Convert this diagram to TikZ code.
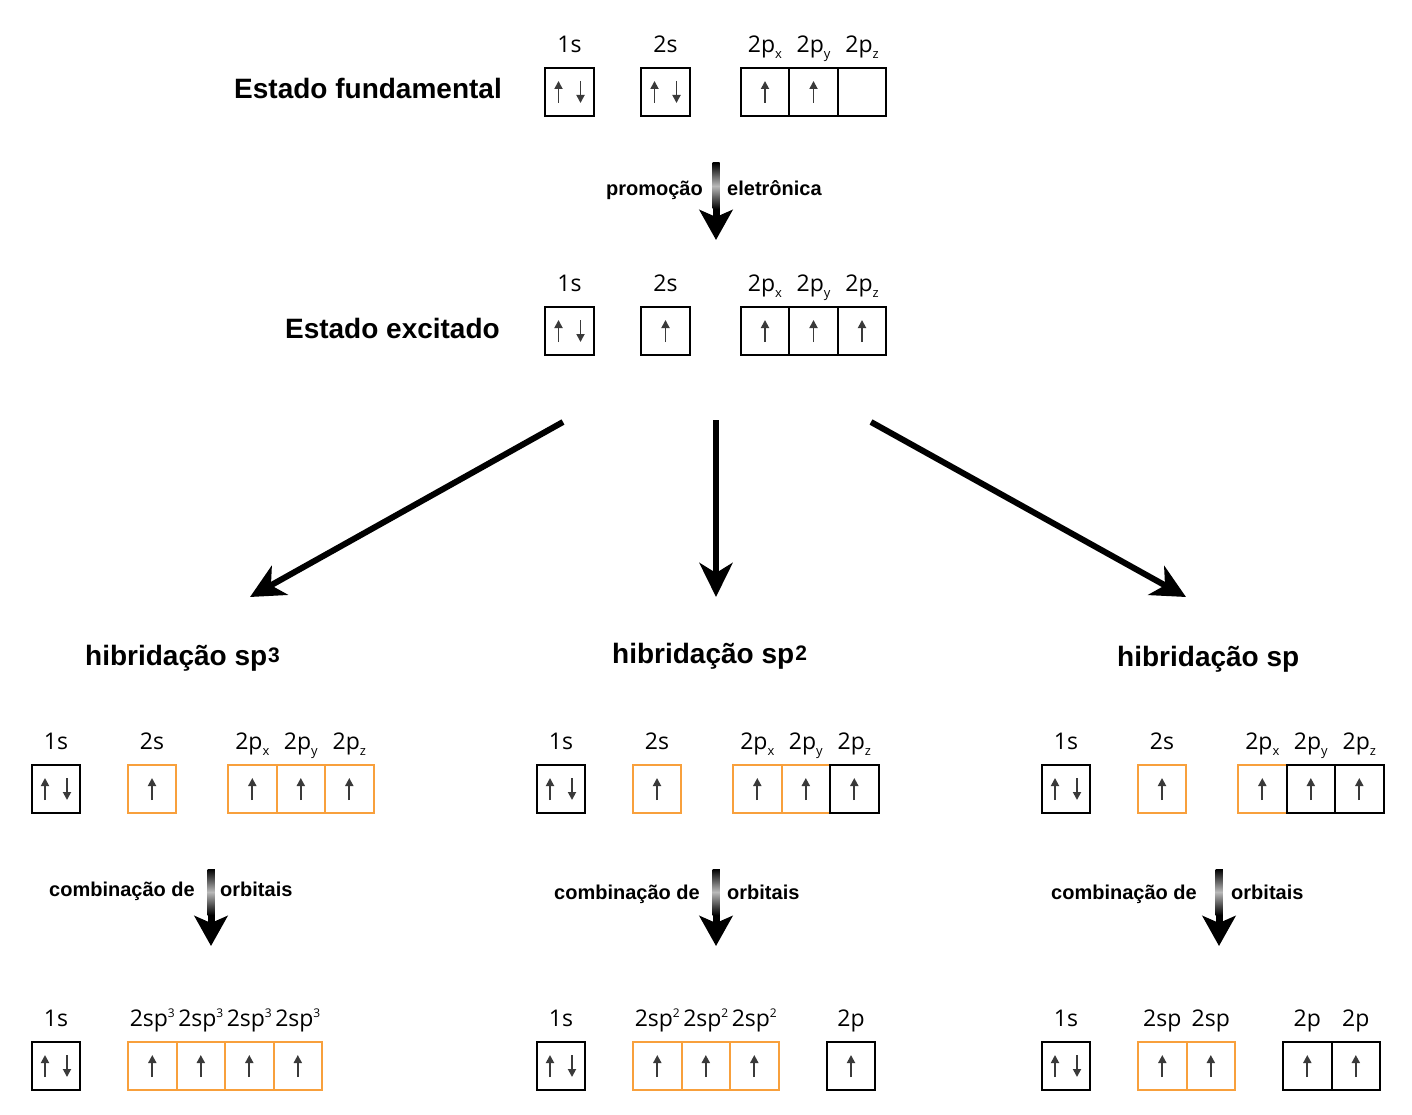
\documentclass[tikz,border=0pt]{standalone}
\usepackage{fontspec}
\setmainfont{Liberation Sans}
\newfontfamily\orbfont{Open Sans}
\usetikzlibrary{arrows.meta,calc}
\definecolor{orb}{RGB}{248,160,60}
\definecolor{elec}{RGB}{58,58,58}
\newcommand\orbsub[1]{\raisebox{-6pt}{\fontsize{13}{13}\selectfont #1}}
\newcommand\orbsup[1]{\raisebox{9pt}{\fontsize{12}{12}\selectfont #1}}
\newcommand\titsup[1]{\kern1pt\raisebox{3pt}{\fontsize{21}{21}\selectfont #1}}
\newcommand\gradarrow[2]{%
  \draw[smallarrow] (#1) -- (#2);
  \shade[top color=black,bottom color=black,middle color=gray!55]
    ($(#1)+(-3.5,0)$) rectangle ($(#2)+(3.5,-31)$);}
\begin{document}
\begin{tikzpicture}[x=1pt,y=-1pt,
  box/.style={draw=black, line width=2pt, minimum size=48.5pt, inner sep=0pt, outer sep=0pt},
  obox/.style={box, draw=orb},
  el/.style={draw=elec, line width=1.8pt, -{Triangle[length=8pt,width=8pt]}},
  lab/.style={anchor=base, inner sep=0pt, font=\orbfont\fontsize{23}{23}\selectfont},
  titleE/.style={anchor=base east, inner sep=0pt, font=\bfseries\fontsize{28}{28}\selectfont},
  titleW/.style={anchor=base west, inner sep=0pt, font=\bfseries\fontsize{28}{28}\selectfont},
  noteE/.style={anchor=base east, inner sep=0pt, font=\bfseries\fontsize{20}{20}\selectfont},
  noteW/.style={anchor=base west, inner sep=0pt, font=\bfseries\fontsize{20}{20}\selectfont},
  bigarrow/.style={line width=6pt, -{Stealth[length=34pt,width=33pt,inset=10pt]}},
  smallarrow/.style={line width=7pt, -{Stealth[length=30pt,width=33pt,inset=7pt]}},
  pics/eup/.style={code={\draw[el] (0,11)--(0,-11);}},
  pics/eud/.style={code={\draw[el] (-11,11)--(-11,-11); \draw[el] (11,-11)--(11,11);}},
]
\useasboundingbox (0,0) rectangle (1412,1115);

% ---------- Estado fundamental ----------
\node[titleE] (tfund) at (502,99) {Estado fundamental};
\node[box] (a1s) at (569.5,92) {};
\node[box] (a2s) at (665.5,92) {};
\node[box] (a2px) at (765,92) {};
\node[box] (a2py) at (813.5,92) {};
\node[box] (a2pz) at (862,92) {};
\node[lab] (la1s) at ([yshift=15pt]a1s.north) {1s};
\node[lab] (la2s) at ([yshift=15pt]a2s.north) {2s};
\node[lab] (la2px) at ([yshift=15pt]a2px.north) {2p\orbsub{x}};
\node[lab] (la2py) at ([yshift=15pt]a2py.north) {2p\orbsub{y}};
\node[lab] (la2pz) at ([yshift=15pt]a2pz.north) {2p\orbsub{z}};
\pic at (a1s) {eud};
\pic at (a2s) {eud};
\pic at (a2px) {eup};
\pic at (a2py) {eup};

% promocao
\coordinate (p0) at (716,163);
\coordinate (p1) at (716,240);
\gradarrow{p0}{p1}
\node[noteE] (tpromo) at (703,196) {promoção};
\node[noteW] (teletr) at (727,196) {eletrônica};

% ---------- Estado excitado ----------
\node[titleE] (texc) at (500,338) {Estado excitado};
\node[box] (b1s) at (569.5,331) {};
\node[box] (b2s) at (665.5,331) {};
\node[box] (b2px) at (765,331) {};
\node[box] (b2py) at (813.5,331) {};
\node[box] (b2pz) at (862,331) {};
\node[lab] (lb1s) at ([yshift=15pt]b1s.north) {1s};
\node[lab] (lb2s) at ([yshift=15pt]b2s.north) {2s};
\node[lab] (lb2px) at ([yshift=15pt]b2px.north) {2p\orbsub{x}};
\node[lab] (lb2py) at ([yshift=15pt]b2py.north) {2p\orbsub{y}};
\node[lab] (lb2pz) at ([yshift=15pt]b2pz.north) {2p\orbsub{z}};
\pic at (b1s) {eud};
\pic at (b2s) {eup};
\pic at (b2px) {eup};
\pic at (b2py) {eup};
\pic at (b2pz) {eup};

% big arrows
\coordinate (gL0) at (563,422); \coordinate (gL1) at (250,597);
\coordinate (gM0) at (716,420); \coordinate (gM1) at (716,597);
\coordinate (gR0) at (871,422); \coordinate (gR1) at (1186,597);
\draw[bigarrow] (gL0) -- (gL1);
\draw[bigarrow] (gM0) -- (gM1);
\draw[bigarrow] (gR0) -- (gR1);

% titles
\node[titleW] (hsp3) at (85,665) {hibridação sp\titsup{3}};
\node[titleW] (hsp2) at (612,663) {hibridação sp\titsup{2}};
\node[titleW] (hsp) at (1117,666) {hibridação sp};

% ---------- row C left (sp3) ----------
\node[box] (c1s) at (56,789) {};
\node[obox] (c2s) at (152,789) {};
\node[obox] (c2px) at (252.3,789) {};
\node[obox] (c2py) at (300.8,789) {};
\node[obox] (c2pz) at (349.3,789) {};
\node[lab] at ([yshift=15pt]c1s.north) {1s};
\node[lab] at ([yshift=15pt]c2s.north) {2s};
\node[lab] at ([yshift=15pt]c2px.north) {2p\orbsub{x}};
\node[lab] at ([yshift=15pt]c2py.north) {2p\orbsub{y}};
\node[lab] at ([yshift=15pt]c2pz.north) {2p\orbsub{z}};
\pic at (c1s) {eud};
\pic at (c2s) {eup};
\pic at (c2px) {eup};
\pic at (c2py) {eup};
\pic at (c2pz) {eup};

% ---------- row C middle (sp2) ----------
\node[box] (m1s) at (561,789) {};
\node[obox] (m2s) at (657,789) {};
\node[obox] (m2px) at (757.3,789) {};
\node[obox] (m2py) at (805.8,789) {};
\node[box] (m2pz) at (854.3,789) {};
\node[lab] at ([yshift=15pt]m1s.north) {1s};
\node[lab] at ([yshift=15pt]m2s.north) {2s};
\node[lab] at ([yshift=15pt]m2px.north) {2p\orbsub{x}};
\node[lab] at ([yshift=15pt]m2py.north) {2p\orbsub{y}};
\node[lab] at ([yshift=15pt]m2pz.north) {2p\orbsub{z}};
\pic at (m1s) {eud};
\pic at (m2s) {eup};
\pic at (m2px) {eup};
\pic at (m2py) {eup};
\pic at (m2pz) {eup};

% ---------- row C right (sp) ----------
\node[box] (r1s) at (1066,789) {};
\node[obox] (r2s) at (1162,789) {};
\node[obox] (r2px) at (1262.3,789) {};
\node[box] (r2py) at (1310.8,789) {};
\node[box] (r2pz) at (1359.3,789) {};
\node[lab] at ([yshift=15pt]r1s.north) {1s};
\node[lab] at ([yshift=15pt]r2s.north) {2s};
\node[lab] at ([yshift=15pt]r2px.north) {2p\orbsub{x}};
\node[lab] at ([yshift=15pt]r2py.north) {2p\orbsub{y}};
\node[lab] at ([yshift=15pt]r2pz.north) {2p\orbsub{z}};
\pic at (r1s) {eud};
\pic at (r2s) {eup};
\pic at (r2px) {eup};
\pic at (r2py) {eup};
\pic at (r2pz) {eup};

% ---------- combinacao arrows ----------
\coordinate (cL0) at (211,869); \coordinate (cL1) at (211,946);
\coordinate (cM0) at (716,869); \coordinate (cM1) at (716,946);
\coordinate (cR0) at (1219,869); \coordinate (cR1) at (1219,946);
\gradarrow{cL0}{cL1}
\gradarrow{cM0}{cM1}
\gradarrow{cR0}{cR1}
\node[noteE] at (195,896) {combinação de};
\node[noteW] at (220,896) {orbitais};
\node[noteE] at (700,899) {combinação de};
\node[noteW] at (727,899) {orbitais};
\node[noteE] at (1197,899) {combinação de};
\node[noteW] at (1231,899) {orbitais};

% ---------- row D left ----------
\node[box] (d1s) at (56,1066) {};
\node[obox] (dq1) at (152.3,1066) {};
\node[obox] (dq2) at (200.8,1066) {};
\node[obox] (dq3) at (249.3,1066) {};
\node[obox] (dq4) at (297.8,1066) {};
\node[lab] at ([yshift=15pt]d1s.north) {1s};
\node[lab] at ([yshift=15pt]dq1.north) {2sp\orbsup{3}};
\node[lab] at ([yshift=15pt]dq2.north) {2sp\orbsup{3}};
\node[lab] at ([yshift=15pt]dq3.north) {2sp\orbsup{3}};
\node[lab] at ([yshift=15pt]dq4.north) {2sp\orbsup{3}};
\pic at (d1s) {eud};
\pic at (dq1) {eup};
\pic at (dq2) {eup};
\pic at (dq3) {eup};
\pic at (dq4) {eup};

% ---------- row D middle ----------
\node[box] (e1s) at (561,1066) {};
\node[obox] (et1) at (657.3,1066) {};
\node[obox] (et2) at (705.8,1066) {};
\node[obox] (et3) at (754.3,1066) {};
\node[box] (e2p) at (851,1066) {};
\node[lab] at ([yshift=15pt]e1s.north) {1s};
\node[lab] at ([yshift=15pt]et1.north) {2sp\orbsup{2}};
\node[lab] at ([yshift=15pt]et2.north) {2sp\orbsup{2}};
\node[lab] at ([yshift=15pt]et3.north) {2sp\orbsup{2}};
\node[lab] at ([yshift=15pt]e2p.north) {2p};
\pic at (e1s) {eud};
\pic at (et1) {eup};
\pic at (et2) {eup};
\pic at (et3) {eup};
\pic at (e2p) {eup};

% ---------- row D right ----------
\node[box] (f1s) at (1066,1066) {};
\node[obox] (fd1) at (1162.3,1066) {};
\node[obox] (fd2) at (1210.8,1066) {};
\node[box] (fp1) at (1307.3,1066) {};
\node[box] (fp2) at (1355.8,1066) {};
\node[lab] at ([yshift=15pt]f1s.north) {1s};
\node[lab] at ([yshift=15pt]fd1.north) {2sp};
\node[lab] at ([yshift=15pt]fd2.north) {2sp};
\node[lab] at ([yshift=15pt]fp1.north) {2p};
\node[lab] at ([yshift=15pt]fp2.north) {2p};
\pic at (f1s) {eud};
\pic at (fd1) {eup};
\pic at (fd2) {eup};
\pic at (fp1) {eup};
\pic at (fp2) {eup};
\end{tikzpicture}
\end{document}
